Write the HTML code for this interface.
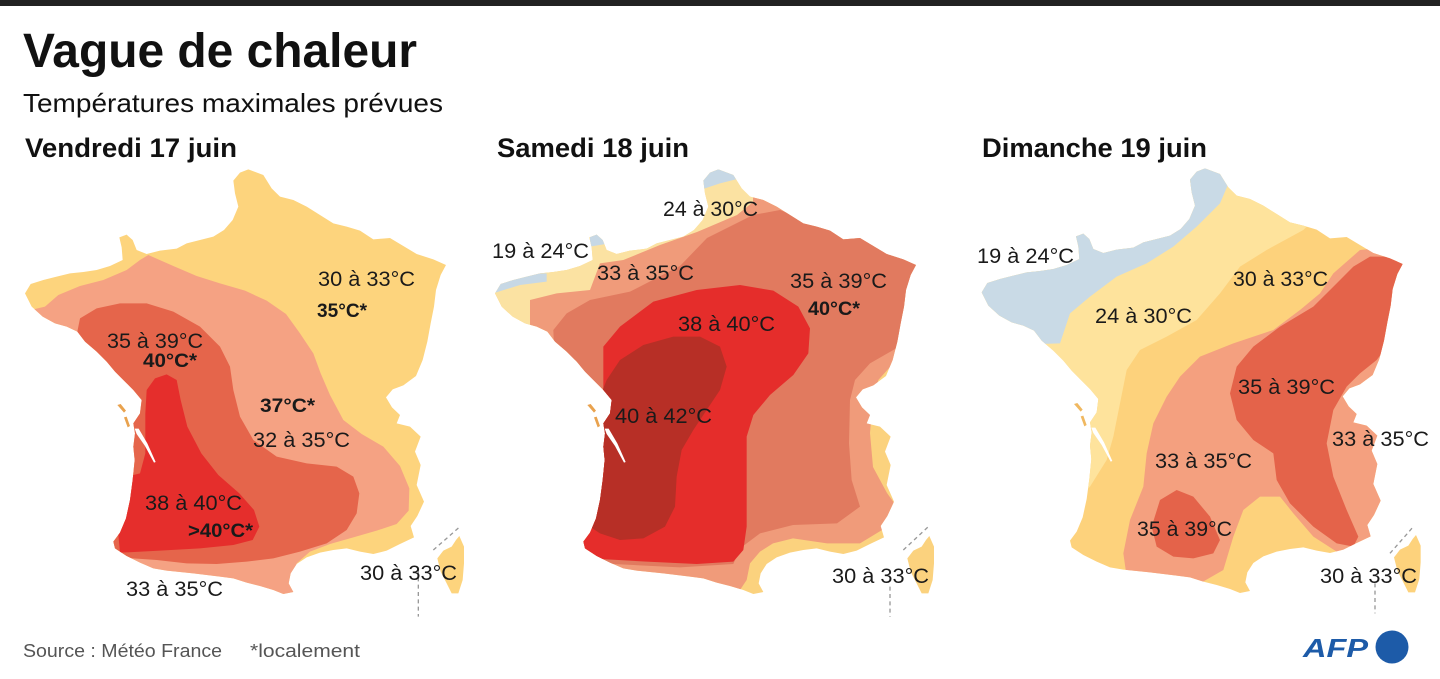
<!DOCTYPE html>
<html><head><meta charset="utf-8"><style>
html,body{margin:0;padding:0;background:#fff;}
svg{display:block;}
text{font-family:"Liberation Sans",sans-serif;fill:#1a1a1a;}
.l{font-size:21px;}
.b{font-size:19px;font-weight:bold;}
</style></head><body>
<svg width="1440" height="679" viewBox="0 0 1440 679" xmlns="http://www.w3.org/2000/svg">
<defs>
<path id="fr" d="M745,28 L790,45 L815,85 L840,110 L880,120 L920,140 L960,165 L1000,190 L1040,200 L1080,212 L1120,238 L1170,234 L1210,258 L1250,282 L1300,298 L1338,315 L1322,345 L1308,390 L1302,440 L1292,490 L1282,545 L1268,600 L1248,648 L1210,676 L1178,688 L1158,712 L1176,742 L1200,765 L1190,790 L1230,800 L1262,830 L1245,875 L1262,915 L1250,975 L1272,1025 L1252,1068 L1232,1098 L1242,1132 L1200,1152 L1160,1172 L1120,1182 L1080,1175 L1040,1165 L1000,1170 L960,1178 L920,1192 L890,1212 L872,1240 L866,1270 L880,1296 L850,1302 L820,1290 L780,1278 L740,1268 L700,1255 L660,1250 L620,1245 L580,1240 L540,1236 L500,1232 L460,1225 L420,1208 L380,1188 L345,1165 L340,1145 L360,1118 L378,1075 L390,1020 L398,960 L404,900 L400,860 L405,820 L400,790 L420,760 L425,720 L400,690 L370,660 L345,635 L320,605 L290,575 L255,545 L232,515 L200,500 L165,490 L128,470 L95,440 L75,400 L92,372 L130,360 L170,350 L210,340 L250,336 L290,330 L330,318 L368,300 L365,262 L358,232 L380,224 L398,240 L410,270 L440,282 L480,272 L530,266 L560,250 L600,240 L640,230 L672,210 L698,180 L715,140 L705,100 L700,62 L720,38 Z"/>
<path id="co" d="M1378,1128 L1392,1160 L1392,1210 L1388,1260 L1375,1300 L1355,1300 L1340,1270 L1322,1235 L1312,1195 L1330,1172 L1355,1160 L1368,1140 Z"/>
<path id="gi" d="M404,806 L416,806 L442,850 L467,906 L462,908 L435,858 L410,822 Z"/>
<path id="is" d="M352,735 L362,732 L378,752 L372,758 Z M372,772 L380,770 L390,798 L383,802 Z"/>
<clipPath id="c1"><use href="#fr"/></clipPath>
<clipPath id="c2"><use href="#fr" transform="translate(-30,0)"/></clipPath>
<clipPath id="c3"><use href="#fr" transform="translate(-10,-3)"/></clipPath>
</defs>

<rect x="0" y="0" width="1440" height="6" fill="#222"/>

<text x="23" y="67" style="font-size:48px;font-weight:bold;fill:#111" textLength="394" lengthAdjust="spacingAndGlyphs">Vague de chaleur</text>
<text x="23" y="112" style="font-size:26px;fill:#111" textLength="420" lengthAdjust="spacingAndGlyphs">Températures maximales prévues</text>
<text x="25" y="157" style="font-size:27px;font-weight:bold;fill:#111" textLength="212" lengthAdjust="spacingAndGlyphs">Vendredi 17 juin</text>
<text x="497" y="157" style="font-size:27px;font-weight:bold;fill:#111" textLength="192" lengthAdjust="spacingAndGlyphs">Samedi 18 juin</text>
<text x="982" y="157" style="font-size:27px;font-weight:bold;fill:#111" textLength="225" lengthAdjust="spacingAndGlyphs">Dimanche 19 juin</text>

<!-- MAP 1 -->
<g transform="translate(0,160) scale(0.333333)">
  <g clip-path="url(#c1)">
    <rect x="0" y="0" width="1500" height="1400" fill="#fdd47d"/>
    <polygon fill="#f5a283" points="100,448 135,440 175,405 240,378 310,360 380,330 420,300 445,285 520,318 590,348 660,370 735,392 800,422 858,462 900,520 940,580 962,640 990,705 1030,780 1085,822 1150,860 1200,918 1228,985 1226,1052 1190,1092 1130,1112 1060,1132 990,1152 930,1175 890,1210 880,1260 900,1330 300,1330 60,600"/>
    <polygon fill="#e5654b" points="232,515 240,475 290,445 360,430 440,430 520,455 600,500 660,560 690,620 700,690 720,770 760,840 830,890 920,910 1010,920 1060,950 1078,1000 1070,1060 1040,1110 980,1150 900,1175 820,1195 740,1205 650,1212 560,1210 470,1200 400,1195 320,1190 300,700 220,560"/>
    <polygon fill="#e52e2c" points="440,690 465,655 500,643 530,660 542,720 562,800 604,880 655,945 718,1000 762,1050 778,1100 758,1140 700,1155 600,1165 480,1172 360,1178 340,960 420,940 436,880 436,760"/>
  </g>
  <use href="#gi" fill="#fff"/>
  <use href="#is" fill="#e9a24e"/>
  <use href="#co" fill="#fdd47d"/>
  <line x1="1300" y1="1170" x2="1380" y2="1100" stroke="#999" stroke-width="4" stroke-dasharray="12,10"/>
  <line x1="1255" y1="1230" x2="1255" y2="1370" stroke="#999" stroke-width="4" stroke-dasharray="12,10"/>
</g>

<!-- MAP 2 -->
<g transform="translate(480,160) scale(0.333333)">
  <g clip-path="url(#c2)">
    <rect x="0" y="0" width="1500" height="1400" fill="#fbd27e"/>
    <polygon fill="#fbe2a2" points="0,0 900,0 900,600 0,600"/>
    <polygon fill="#c7d8e5" points="30,340 200,340 200,365 120,375 40,400"/>
    <polygon fill="#c7d8e5" points="330,210 420,210 420,245 330,260"/>
    <polygon fill="#c7d8e5" points="660,0 800,0 800,50 720,70 660,90"/>
    <polygon fill="#f09b7a" points="150,480 150,420 230,400 330,390 360,310 430,300 540,255 651,216 771,165 819,126 819,75 900,90 1400,200 1400,540 1300,560 1240,610 1195,660 1179,720 1170,819 1179,921 1221,999 1251,1041 1221,1101 1140,1150 1041,1150 939,1135 879,1150 840,1175 810,1210 800,1260 780,1290 700,1300 300,1300 300,600 150,600"/>
    <polygon fill="#e17a5f" points="225,630 220,510 260,460 330,420 450,395 600,318 681,234 759,195 819,165 900,150 1000,190 1100,200 1400,250 1400,520 1300,535 1240,570 1170,610 1125,660 1110,720 1107,850 1115,960 1140,1040 1071,1090 939,1095 840,1120 780,1165 760,1212 600,1222 400,1212 300,1200 250,800"/>
    <polygon fill="#e52d2b" points="370,560 420,500 520,425 650,390 780,375 880,392 955,440 990,505 985,580 940,645 870,705 820,765 800,830 800,1000 800,1100 790,1170 760,1205 650,1212 500,1205 330,1195 290,1160 300,1000 300,800 370,700"/>
    <polygon fill="#b72f26" points="380,660 420,600 490,555 580,530 660,530 720,560 740,620 720,690 680,750 640,810 605,870 590,950 585,1040 555,1100 490,1135 420,1140 360,1120 300,1080 300,900 340,760"/>
  </g>
  <g transform="translate(-30,0)">
    <use href="#gi" fill="#fff"/>
    <use href="#is" fill="#e9a24e"/>
    <use href="#co" fill="#fbd27e"/>
  </g>
  <line x1="1270" y1="1170" x2="1345" y2="1100" stroke="#999" stroke-width="4" stroke-dasharray="12,10"/>
  <line x1="1230" y1="1280" x2="1230" y2="1370" stroke="#999" stroke-width="4" stroke-dasharray="12,10"/>
</g>

<!-- MAP 3 -->
<g transform="translate(960,160) scale(0.333333)">
  <g clip-path="url(#c3)">
    <rect x="0" y="0" width="1500" height="1400" fill="#fdd27c"/>
    <polygon fill="#fee39c" points="1060,0 1060,180 1030,210 920,270 840,320 780,400 710,480 620,530 540,570 500,630 480,730 460,830 440,900 390,980 340,1030 0,1030 0,0"/>
    <polygon fill="#c9dae6" points="820,0 810,60 780,130 710,200 640,260 560,310 470,350 390,410 330,460 300,550 0,560 0,0"/>
    <polygon fill="#f4a07f" points="1020,450 940,510 820,550 720,590 660,650 620,710 580,790 560,880 550,980 510,1080 490,1180 500,1250 540,1290 640,1300 720,1270 790,1230 820,1130 850,1050 900,1010 960,1010 1000,1060 1060,1130 1130,1175 1210,1175 1250,1120 1270,1040 1400,1000 1400,250 1200,270 1120,340 1080,400"/>
    <polygon fill="#e4634a" points="1180,320 1230,290 1400,290 1400,540 1280,560 1250,600 1200,640 1160,680 1120,750 1100,850 1120,950 1160,1050 1195,1130 1180,1160 1130,1150 1060,1100 990,1030 950,960 940,880 880,840 830,780 810,700 830,620 880,560 960,500 1060,440 1130,370"/>
    <polygon fill="#e4634a" points="600,1020 650,990 700,1010 750,1070 780,1140 760,1180 700,1195 640,1190 590,1160 575,1100"/>
  </g>
  <g transform="translate(-10,-3)">
    <use href="#gi" fill="#fff"/>
    <use href="#is" fill="#f0b860"/>
    <use href="#co" fill="#fdd27c"/>
  </g>
  <line x1="1290" y1="1180" x2="1360" y2="1100" stroke="#999" stroke-width="4" stroke-dasharray="12,10"/>
  <line x1="1245" y1="1270" x2="1245" y2="1360" stroke="#999" stroke-width="4" stroke-dasharray="12,10"/>
</g>

<!-- Labels map 1 -->
<text class="l" x="318" y="286" textLength="97" lengthAdjust="spacingAndGlyphs">30 à 33°C</text>
<text class="b" x="317" y="317" textLength="50" lengthAdjust="spacingAndGlyphs">35°C*</text>
<text class="l" x="107" y="348" textLength="96" lengthAdjust="spacingAndGlyphs">35 à 39°C</text>
<text class="b" x="143" y="367" textLength="54" lengthAdjust="spacingAndGlyphs">40°C*</text>
<text class="b" x="260" y="412" textLength="55" lengthAdjust="spacingAndGlyphs">37°C*</text>
<text class="l" x="253" y="447" textLength="97" lengthAdjust="spacingAndGlyphs">32 à 35°C</text>
<text class="l" x="145" y="510" textLength="97" lengthAdjust="spacingAndGlyphs">38 à 40°C</text>
<text class="b" x="188" y="537" textLength="65" lengthAdjust="spacingAndGlyphs">&gt;40°C*</text>
<text class="l" x="126" y="596" textLength="97" lengthAdjust="spacingAndGlyphs">33 à 35°C</text>
<text class="l" x="360" y="580" textLength="97" lengthAdjust="spacingAndGlyphs">30 à 33°C</text>

<!-- Labels map 2 -->
<text class="l" x="663" y="216" textLength="95" lengthAdjust="spacingAndGlyphs">24 à 30°C</text>
<text class="l" x="492" y="258" textLength="97" lengthAdjust="spacingAndGlyphs">19 à 24°C</text>
<text class="l" x="597" y="280" textLength="97" lengthAdjust="spacingAndGlyphs">33 à 35°C</text>
<text class="l" x="790" y="288" textLength="97" lengthAdjust="spacingAndGlyphs">35 à 39°C</text>
<text class="b" x="808" y="315" textLength="52" lengthAdjust="spacingAndGlyphs">40°C*</text>
<text class="l" x="678" y="331" textLength="97" lengthAdjust="spacingAndGlyphs">38 à 40°C</text>
<text class="l" x="615" y="423" textLength="97" lengthAdjust="spacingAndGlyphs">40 à 42°C</text>
<text class="l" x="832" y="583" textLength="97" lengthAdjust="spacingAndGlyphs">30 à 33°C</text>

<!-- Labels map 3 -->
<text class="l" x="977" y="263" textLength="97" lengthAdjust="spacingAndGlyphs">19 à 24°C</text>
<text class="l" x="1233" y="286" textLength="95" lengthAdjust="spacingAndGlyphs">30 à 33°C</text>
<text class="l" x="1095" y="323" textLength="97" lengthAdjust="spacingAndGlyphs">24 à 30°C</text>
<text class="l" x="1238" y="394" textLength="97" lengthAdjust="spacingAndGlyphs">35 à 39°C</text>
<text class="l" x="1332" y="446" textLength="97" lengthAdjust="spacingAndGlyphs">33 à 35°C</text>
<text class="l" x="1155" y="468" textLength="97" lengthAdjust="spacingAndGlyphs">33 à 35°C</text>
<text class="l" x="1137" y="536" textLength="95" lengthAdjust="spacingAndGlyphs">35 à 39°C</text>
<text class="l" x="1320" y="583" textLength="97" lengthAdjust="spacingAndGlyphs">30 à 33°C</text>

<!-- Footer -->
<text x="23" y="657" style="font-size:18px;fill:#555" textLength="199" lengthAdjust="spacingAndGlyphs">Source : Météo France</text>
<text x="250" y="657" style="font-size:18px;fill:#555" textLength="110" lengthAdjust="spacingAndGlyphs">*localement</text>

<!-- AFP logo -->
<text x="1303" y="657" style="font-size:26px;font-weight:bold;font-style:italic;fill:#1d5ba8" textLength="65" lengthAdjust="spacingAndGlyphs">AFP</text>
<circle cx="1392" cy="647" r="16.5" fill="#1d5ba8"/>
</svg>
</body></html>
